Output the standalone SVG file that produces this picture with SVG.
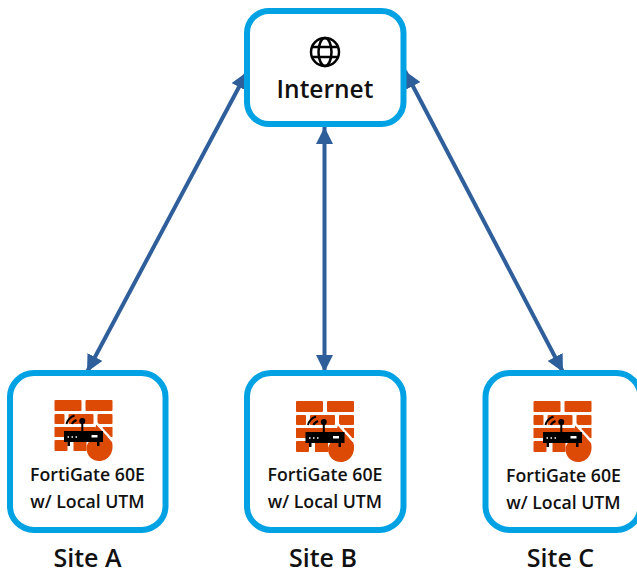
<svg xmlns="http://www.w3.org/2000/svg" width="637" height="574" viewBox="0 0 637 574">
<style>
.box{fill:#fff;stroke:#00a2e3;stroke-width:6}
.conn{fill:none;stroke:#2f5f9b;stroke-width:4}
text{font-family:"Open Sans","Noto Sans","Liberation Sans",sans-serif;fill:#111;text-anchor:middle}
.small{font-size:17.700px;font-weight:600}
.big{font-size:24.500px;font-weight:600}
.site{font-size:25px;font-weight:600}
.brick{fill:#dd4a05}
.blk{fill:#000}
</style>
<defs>
<marker id="arrow" markerUnits="userSpaceOnUse" markerWidth="17" markerHeight="17" refX="16" refY="8" orient="auto-start-reverse" viewBox="0 0 16 16"><path d="M0 0L16 8L0 16Z" fill="#2f5f9b"/></marker>
<symbol id="fw" width="60" height="62" viewBox="0 0 60 62" overflow="visible">
<g class="brick">
<rect x="0" y="0" width="27" height="11" rx="1"/><rect x="31" y="0" width="27" height="11" rx="1"/>
<rect x="0" y="14" width="10" height="10" rx="1"/><rect x="14" y="14" width="25" height="10" rx="1"/><rect x="43" y="14" width="15" height="10" rx="1"/>
<rect x="0" y="27" width="41" height="10"/><rect x="48" y="27" width="10" height="10"/>
<rect x="0" y="40" width="13" height="11" rx="1"/><rect x="19" y="40" width="13" height="11"/>
<path d="M42 24L57.500 42C60 52 54 61 45 61C37 61 32 55 32 48C32 44 36 40 38 37Z"/>
</g>
<path d="M41 22L58.500 41" fill="none" stroke="#fff" stroke-width="2.500"/>
<g class="blk">
<rect x="9.500" y="31" width="39" height="11"/>
<rect x="13" y="42" width="2.500" height="4"/><rect x="42.500" y="42" width="2.500" height="4"/>
<rect x="26.800" y="22" width="2" height="10"/><circle cx="27.800" cy="21" r="3"/>
</g>
<path d="M13 37h1.500M17 37h1.500M21 37h1.500" stroke="#fff" stroke-width="1.500" fill="none"/>
<rect x="37" y="35" width="6" height="2.500" fill="#fff"/>
<path d="M12 24C13 20 16 17 20 15.500M17.500 24C18 22 20 21 22 20" fill="none" stroke="#000" stroke-width="2"/>
</symbol>
</defs>
<g id="connectors">
<line class="conn" x1="247" y1="72" x2="87" y2="372" marker-start="url(#arrow)" marker-end="url(#arrow)"/>
<line class="conn" x1="324.500" y1="127" x2="324.500" y2="372" marker-start="url(#arrow)" marker-end="url(#arrow)"/>
<line class="conn" x1="405" y1="71" x2="563" y2="372" marker-start="url(#arrow)" marker-end="url(#arrow)"/>
</g>
<g id="internet">
<rect class="box" x="247" y="11" width="156.500" height="113" rx="22"/>
<g fill="none" stroke="#000" stroke-width="2.500">
<circle cx="325" cy="52" r="14"/>
<ellipse cx="325" cy="52" rx="6.500" ry="14"/>
<path d="M312 47H338M312 57H338"/>
</g>
<text class="big" x="325" y="98">Internet</text>
</g>
<g id="site-a">
<rect class="box" x="10" y="373" width="155.500" height="157" rx="24"/>
<use href="#fw" x="54.500" y="400"/>
<text class="small" x="87.500" y="480.500">FortiGate 60E</text>
<text class="small" x="87.500" y="507.500">w/ Local UTM</text>
<text class="site" x="87.500" y="567">Site A</text>
</g>
<g id="site-b">
<rect class="box" x="247" y="373" width="156.500" height="157" rx="24"/>
<use href="#fw" x="296" y="401"/>
<text class="small" x="325" y="480.500">FortiGate 60E</text>
<text class="small" x="325" y="507.500">w/ Local UTM</text>
<text class="site" x="323" y="567">Site B</text>
</g>
<g id="site-c">
<rect class="box" x="485.500" y="373" width="155" height="157" rx="24"/>
<use href="#fw" x="533.500" y="401"/>
<text class="small" x="563.500" y="481.500">FortiGate 60E</text>
<text class="small" x="563.500" y="508.500">w/ Local UTM</text>
<text class="site" x="560.500" y="567">Site C</text>
</g>
</svg>
